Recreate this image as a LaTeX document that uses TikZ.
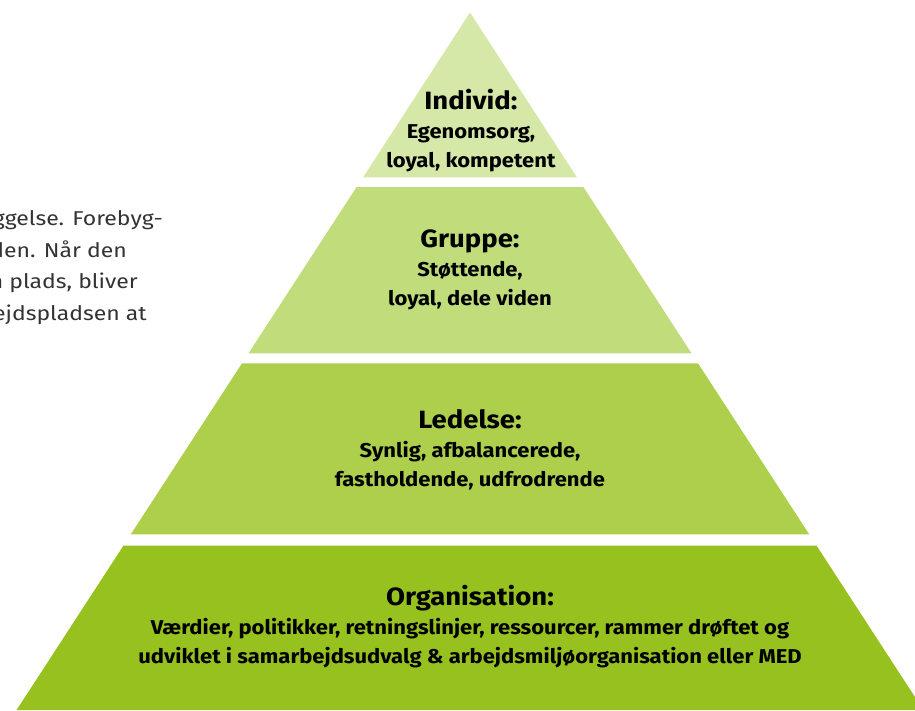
\documentclass[tikz,border=0pt]{standalone}
\usepackage{fontspec}
\setmainfont{Fira Sans}[FakeStretch=1.1]
\newfontfamily\sidefont{Fira Sans}[FakeStretch=1.15]
\definecolor{cIndivid}{HTML}{D5E8A8}
\definecolor{cGruppe}{HTML}{C1DC7B}
\definecolor{cLedelse}{HTML}{ADCF4C}
\definecolor{cOrg}{HTML}{96C11F}
\definecolor{cSide}{HTML}{333333}
\tikzset{
  layer/.style={draw=none},
  layertext/.style={align=center, text=black, font=\bfseries\fontsize{20}{29}\selectfont, inner sep=0pt},
  sidetext/.style={anchor=base east, text=cSide, font=\sidefont\fontsize{20}{24}\selectfont, inner sep=0pt}
}
\newcommand{\hd}[1]{{\fontsize{25}{29}\selectfont #1}}
\begin{document}
\begin{tikzpicture}[x=1pt,y=-1pt]
\useasboundingbox (0,0) rectangle (915,710);
\clip (0,0) rectangle (915,710);
% layers (apex at 470,12.5; slope 0.65)
\fill[cIndivid, layer] (470,12.5) -- (576.9,177.3) -- (363.1,177.3) -- cycle;
\fill[cGruppe, layer] (356.6,187) -- (583.4,187) -- (691.5,353.3) -- (248.5,353.3) -- cycle;
\fill[cLedelse, layer] (242,363.3) -- (698,363.3) -- (809.2,534.3) -- (130.8,534.3) -- cycle;
\fill[cOrg, layer] (123.4,545.7) -- (816.6,545.7) -- (923.4,710) -- (16.6,710) -- cycle;
% texts
\node[layertext] (individ) at (471,131) {\hd{Individ:}\\Egenomsorg,\\loyal, kompetent};
\node[layertext] (gruppe) at (470,270) {\hd{Gruppe:}\\Støttende,\\loyal, dele viden};
\node[layertext] (ledelse) at (470,450) {\hd{Ledelse:}\\Synlig, afbalancerede,\\fastholdende, udfrodrende};
\node[layertext] (org) at (470,627) {\hd{Organisation:}\\Værdier, politikker, retningslinjer, ressourcer, rammer drøftet og\\udviklet i samarbejdsudvalg \& arbejdsmiljøorganisation eller MED};
% side text (cut at the left edge)
\node[sidetext] (s1) at (163,225) {ggelse. Forebyg-};
\node[sidetext] (s2) at (127,257) {den. Når den};
\node[sidetext] (s3) at (138,288) {n plads, bliver};
\node[sidetext] (s4) at (147,320) {ejdspladsen at};
\end{tikzpicture}
\end{document}
